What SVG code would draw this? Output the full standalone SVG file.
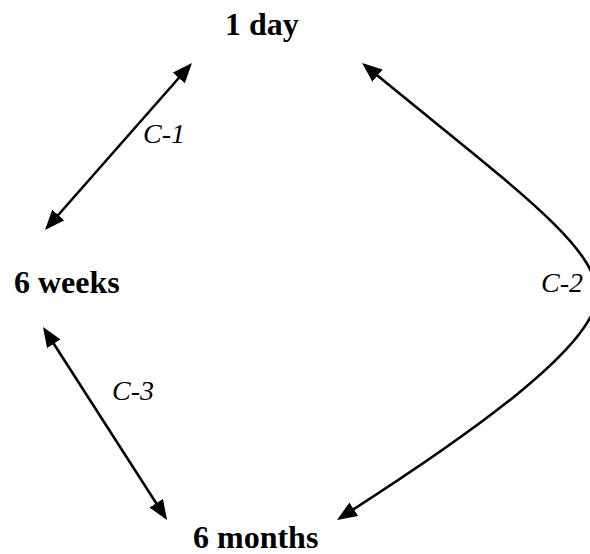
<svg xmlns="http://www.w3.org/2000/svg" width="590" height="554" viewBox="0 0 590 554">
<style>
.node{font-family:"Liberation Serif","Times New Roman",serif;font-weight:bold;font-size:32px;fill:#000}
.lbl{font-family:"Liberation Serif","Times New Roman",serif;font-style:italic;font-size:28px;fill:#000}
.conn{fill:none;stroke:#000;stroke-width:2.6}
</style>
<defs>
<marker id="ah" markerUnits="userSpaceOnUse" markerWidth="20" markerHeight="16" viewBox="0 0 20 16" refX="17" refY="8" orient="auto-start-reverse">
<path d="M0,0 L20,8 L0,16 z" fill="#000"/>
</marker>
</defs>
<rect width="590" height="554" fill="#fff"/>
<g id="connectors">
<line class="conn" x1="47" y1="227.75" x2="190" y2="65.25" marker-start="url(#ah)" marker-end="url(#ah)"/>
<line class="conn" x1="44.6" y1="329.5" x2="165.4" y2="517.5" marker-start="url(#ah)" marker-end="url(#ah)"/>
<path class="conn" d="M364.4,64.8 C510,185 597,245 597,295 C597,345 470,435 339.5,518.3" marker-start="url(#ah)" marker-end="url(#ah)"/>
<text class="lbl" x="143" y="143">C-1</text>
<text class="lbl" x="541" y="292">C-2</text>
<text class="lbl" x="112" y="400">C-3</text>
</g>
<g id="node-1day"><text class="node" x="225" y="35">1 day</text></g>
<g id="node-6weeks"><text class="node" x="14" y="293">6 weeks</text></g>
<g id="node-6months"><text class="node" x="193" y="548">6 months</text></g>
</svg>
